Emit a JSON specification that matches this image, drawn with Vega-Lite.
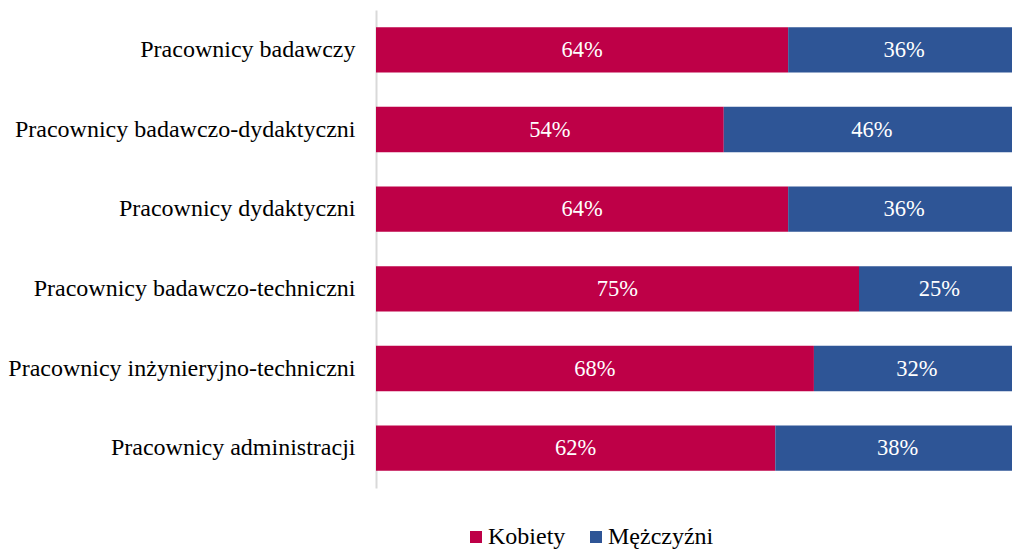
{
  "$schema": "https://vega.github.io/schema/vega-lite/v6.json",
  "width": 636,
  "height": 478,
  "autosize": "none",
  "padding": {"left": 376, "top": 10, "right": 0, "bottom": 61},
  "background": "white",
  "config": {"view": {"stroke": null}, "font": "Liberation Serif"},
  "data": {
    "values": [
      {"cat": "Pracownicy badawczy", "g": "Kobiety", "o": 1, "v": 0.64},
      {"cat": "Pracownicy badawczy", "g": "Mężczyźni", "o": 2, "v": 0.36},
      {"cat": "Pracownicy badawczo-dydaktyczni", "g": "Kobiety", "o": 1, "v": 0.54},
      {"cat": "Pracownicy badawczo-dydaktyczni", "g": "Mężczyźni", "o": 2, "v": 0.46},
      {"cat": "Pracownicy dydaktyczni", "g": "Kobiety", "o": 1, "v": 0.64},
      {"cat": "Pracownicy dydaktyczni", "g": "Mężczyźni", "o": 2, "v": 0.36},
      {"cat": "Pracownicy badawczo-techniczni", "g": "Kobiety", "o": 1, "v": 0.75},
      {"cat": "Pracownicy badawczo-techniczni", "g": "Mężczyźni", "o": 2, "v": 0.25},
      {"cat": "Pracownicy inżynieryjno-techniczni", "g": "Kobiety", "o": 1, "v": 0.68},
      {"cat": "Pracownicy inżynieryjno-techniczni", "g": "Mężczyźni", "o": 2, "v": 0.32},
      {"cat": "Pracownicy administracji", "g": "Kobiety", "o": 1, "v": 0.62},
      {"cat": "Pracownicy administracji", "g": "Mężczyźni", "o": 2, "v": 0.38}
    ]
  },
  "transform": [
    {"stack": "v", "groupby": ["cat"], "sort": [{"field": "o"}], "as": ["x0", "x1"]},
    {"calculate": "(datum.x0 + datum.x1) / 2", "as": "xm"}
  ],
  "encoding": {
    "y": {
      "field": "cat",
      "type": "nominal",
      "sort": null,
      "title": null,
      "scale": {"paddingInner": 0.43, "paddingOuter": 0.215},
      "axis": {
        "domainColor": "#D9D9D9",
        "domainWidth": 2,
        "ticks": false,
        "labelFontSize": 24,
        "labelColor": "#000000",
        "labelPadding": 21,
        "labelLimit": 400,
        "labelFont": "Liberation Serif"
      }
    }
  },
  "layer": [
    {
      "mark": {"type": "bar", "clip": true},
      "encoding": {
        "x": {"field": "x0", "type": "quantitative", "scale": {"domain": [0, 0.98758], "nice": false, "zero": true}, "axis": null},
        "x2": {"field": "x1"},
        "color": {
          "field": "g",
          "type": "nominal",
          "sort": ["Kobiety", "Mężczyźni"],
          "scale": {"domain": ["Kobiety", "Mężczyźni"], "range": ["#BE0047", "#2E5596"]},
          "legend": {
            "title": null,
            "orient": "none",
            "direction": "horizontal",
            "legendX": 88,
            "legendY": 515,
            "symbolType": "square",
            "symbolSize": 144,
            "symbolStrokeWidth": 0,
            "labelFontSize": 24,
            "labelColor": "#000000",
            "labelFont": "Liberation Serif",
            "labelOffset": 0,
            "columnPadding": 18
          }
        }
      }
    },
    {
      "mark": {"type": "text", "color": "white", "fontSize": 22.5, "font": "Liberation Serif", "baseline": "middle"},
      "encoding": {
        "x": {"field": "xm", "type": "quantitative"},
        "text": {"field": "v", "type": "quantitative", "format": ".0%"}
      }
    }
  ]
}
